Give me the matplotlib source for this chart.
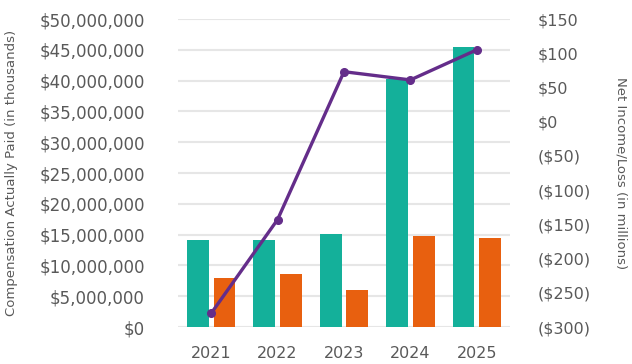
import matplotlib
matplotlib.use("Agg")
import matplotlib.pyplot as plt
import numpy as np
from matplotlib.ticker import FuncFormatter

years = ["2021", "2022", "2023", "2024", "2025"]
cap_peo = [14200000, 14200000, 15100000, 40300000, 45400000]
cap_neo = [7900000, 8600000, 6000000, 14800000, 14400000]
net_income = [-280, -143, 73, 61, 105]

teal = "#14B09A"
orange = "#E8600F"
purple = "#642D8A"
grey = "#595959"

fig = plt.figure(figsize=(6.32, 3.64), dpi=100)
ax = fig.add_axes([0.2816, 0.1016, 0.5254, 0.8462])
x = np.arange(len(years))
w = 0.33
ax.bar(x - 0.2, cap_peo, width=w, color=teal, zorder=2)
ax.bar(x + 0.2, cap_neo, width=w, color=orange, zorder=2)
ax.set_xlim(-0.5, len(years) - 0.5)
ax.set_ylim(0, 50000000)
ax.set_yticks(np.arange(0, 50000001, 5000000))
ax.yaxis.set_major_formatter(FuncFormatter(lambda v, p: f"${v:,.0f}"))
ax.set_xticks(x)
ax.set_xticklabels(years)
ax.grid(axis="y", color="#e6e6e6", linewidth=1.5, zorder=0)
ax.set_axisbelow(True)
for s in ax.spines.values():
    s.set_visible(False)
ax.tick_params(axis="y", length=0, pad=24, labelsize=12, labelcolor=grey)
ax.tick_params(axis="x", length=0, pad=14, labelsize=11.5, labelcolor=grey)
ax.set_ylabel("Compensation Actually Paid (in thousands)", fontsize=9.5, color=grey)
ax.yaxis.set_label_coords(-0.482, 0.5)

ax2 = ax.twinx()
ax2.plot(x, net_income, color=purple, linewidth=2.4, marker="o", markersize=5.5, zorder=3)
ax2.set_ylim(-300, 150)
ax2.set_yticks(np.arange(-300, 151, 50))
ax2.yaxis.set_major_formatter(FuncFormatter(lambda v, p: f"${v:,.0f}" if v >= 0 else f"(${-v:,.0f})"))
for s in ax2.spines.values():
    s.set_visible(False)
ax2.tick_params(axis="y", length=0, pad=20, labelsize=11.5, labelcolor=grey)
ax2.set_ylabel("Net Income/Loss (in millions)", fontsize=9.5, color=grey, rotation=270)
ax2.yaxis.set_label_coords(1.355, 0.5)

fig.savefig("out.png", dpi=100)
